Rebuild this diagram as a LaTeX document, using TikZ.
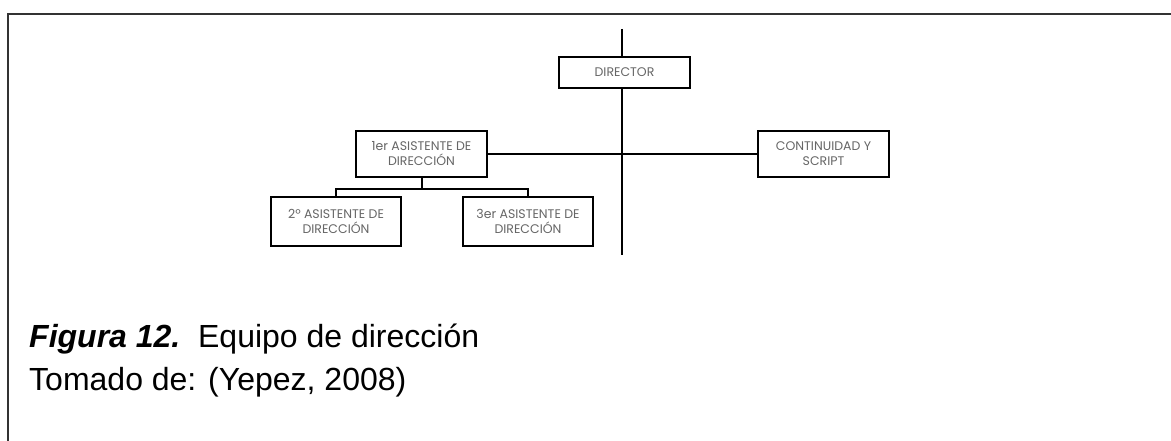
\documentclass[tikz,border=0pt]{standalone}
\usepackage{fontspec}
\setmainfont{Liberation Sans}
\newfontfamily\boxfont{Poppins}
\begin{document}
\begin{tikzpicture}[x=1pt,y=-1pt]
          \tikzstyle{puesto}=[rectangle,draw=black,line width=2.8pt,fill=white,minimum width=131pt,minimum height=46pt,align=center,text=black!60,font=\boxfont\fontsize{12.5}{15}\selectfont]
          \tikzstyle{linea}=[draw,line width=2pt]
          \useasboundingbox (0,0) rectangle (1171,441);
          % marco
          \draw[line width=2.2pt,black!80] (1171,14) -- (8,14) -- (8,441);
          \coordinate (eje1) at (622,29);
          \coordinate (eje2) at (622,255);
          \path[linea] (eje1) -- (eje2);
          \begin{scope}
              \node [puesto,minimum height=31pt] (dir) at (624.5,72.5) {DIRECTOR};
              \node [puesto] (as1) at (421.5,154) {1er ASISTENTE DE\\DIRECCIÓN};
              \node [puesto] (cont) at (823.5,154) {CONTINUIDAD Y\\SCRIPT};
              \node [puesto,minimum height=49pt,minimum width=130pt] (as2) at (336,221.5) {2º ASISTENTE DE\\DIRECCIÓN};
              \node [puesto,minimum height=49pt,minimum width=130pt] (as3) at (528,221.5) {3er ASISTENTE DE\\DIRECCIÓN};
              \path[linea] (as1) -- (cont);
              \path[linea] (as1.south) -- ++(0,11) coordinate (bus);
              \path[linea] (as2.north) |- (bus) -| (as3.north);
          \end{scope}
          % pie
          \node [anchor=base west,font=\fontsize{32}{38}\selectfont,inner sep=0pt] (fig) at (29,347) {\textbf{\textit{Figura 12.}}\ \ Equipo de dirección};
          \node [anchor=base west,font=\fontsize{32}{38}\selectfont,inner sep=0pt] (fuente) at (29,390) {Tomado de: (Yepez, 2008)};
\end{tikzpicture}
\end{document}
